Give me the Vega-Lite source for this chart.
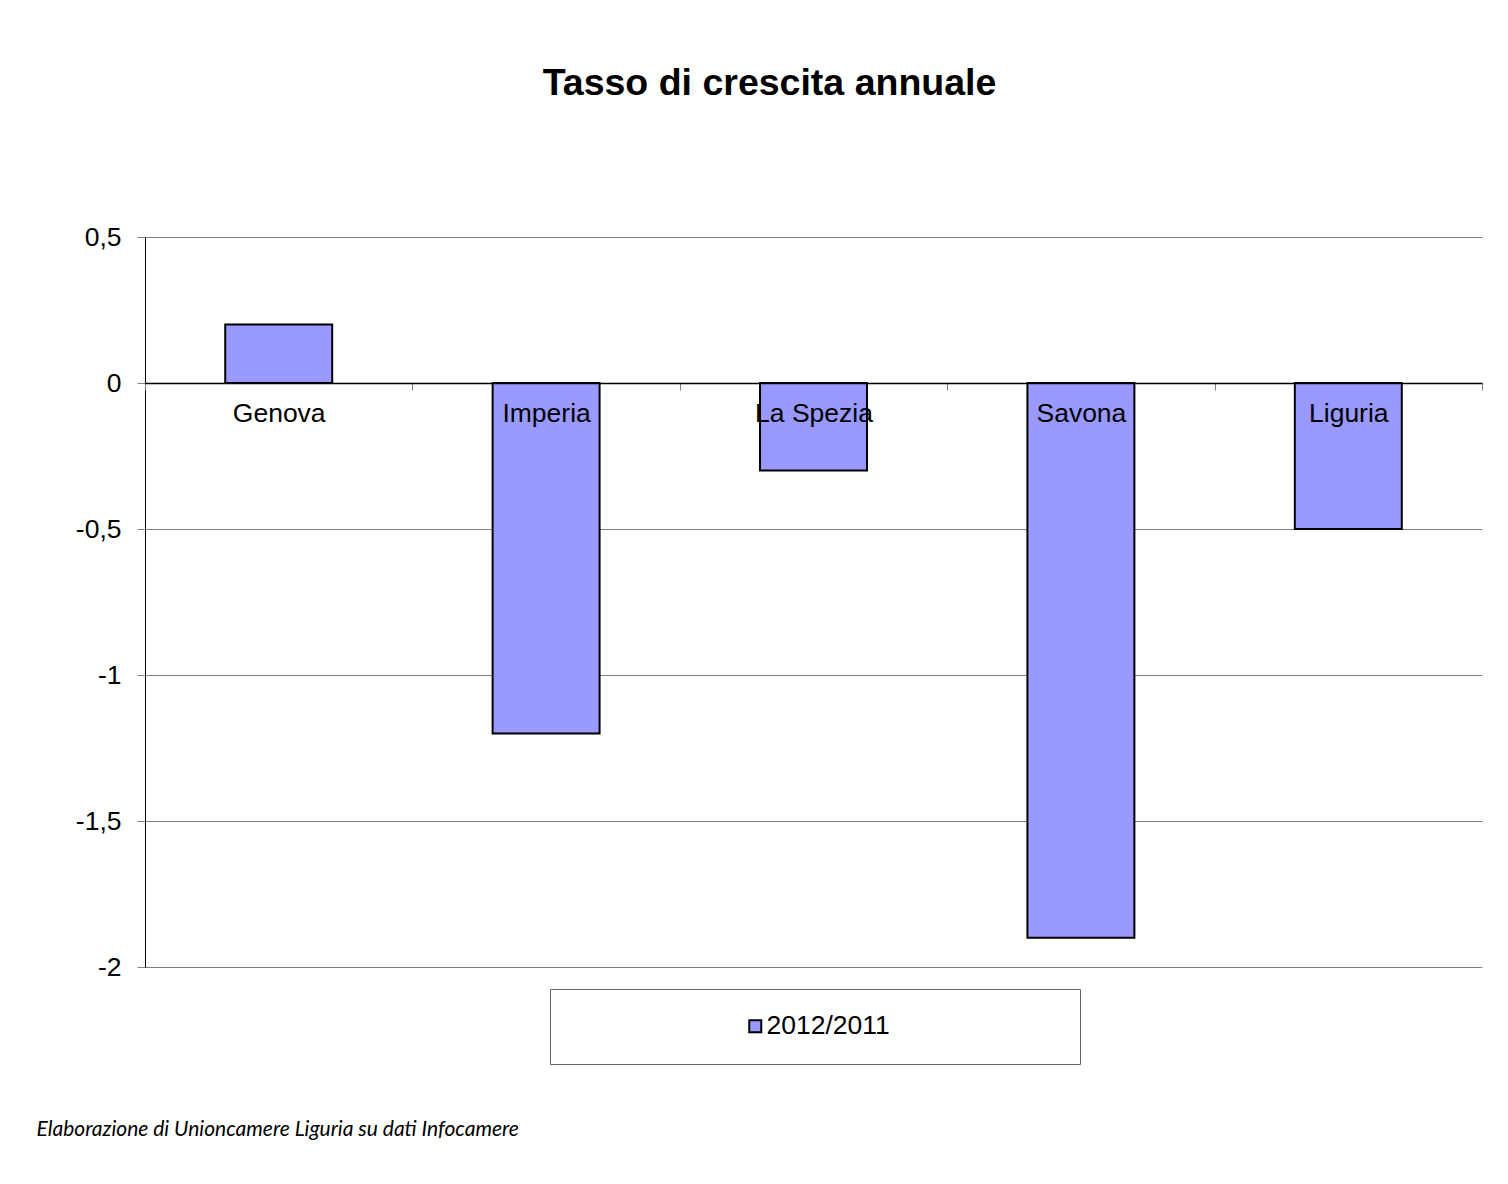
{
  "$schema": "https://vega.github.io/schema/vega-lite/v6.json",
  "width": 1337,
  "height": 730,
  "autosize": {"type": "none"},
  "padding": {"left": 145, "top": 237, "right": 26, "bottom": 217},
  "background": "white",
  "title": {
    "text": "Tasso di crescita annuale",
    "font": "Liberation Sans",
    "fontSize": 37.5,
    "fontWeight": "bold",
    "color": "black",
    "anchor": "middle",
    "frame": "group",
    "dx": -44,
    "offset": 122
  },
  "data": {
    "values": [
      {"provincia": "Genova", "tasso": 0.2, "serie": "2012/2011"},
      {"provincia": "Imperia", "tasso": -1.2, "serie": "2012/2011"},
      {"provincia": "La Spezia", "tasso": -0.3, "serie": "2012/2011"},
      {"provincia": "Savona", "tasso": -1.9, "serie": "2012/2011"},
      {"provincia": "Liguria", "tasso": -0.5, "serie": "2012/2011"}
    ]
  },
  "mark": {"type": "bar", "stroke": "black", "strokeWidth": 2, "width": {"band": 0.4}},
  "encoding": {
    "x": {
      "field": "provincia",
      "type": "nominal",
      "sort": null,
      "scale": {"paddingInner": 0, "paddingOuter": 0},
      "axis": {
        "orient": "bottom",
        "offset": -584,
        "title": "Elaborazione di Unioncamere Liguria su dati Infocamere",
        "titleFont": "Lato",
        "titleFontStyle": "italic",
        "titleFontWeight": "normal",
        "titleFontSize": 21,
        "titleColor": "black",
        "titleX": -109,
        "titleY": 752,
        "titleAlign": "left",
        "titleBaseline": "alphabetic",
        "titleAnchor": "start",
        "domainColor": "black",
        "domainWidth": 1.5,
        "tickColor": "#808080",
        "tickSize": 7,
        "tickWidth": 1,
        "tickBand": "extent",
        "labelAngle": 0,
        "labelFont": "Liberation Sans",
        "labelFontSize": 26.5,
        "labelColor": "black",
        "labelPadding": 10,
        "grid": false,
        "zindex": 1
      }
    },
    "y": {
      "field": "tasso",
      "type": "quantitative",
      "scale": {"domain": [-2, 0.5], "nice": false, "zero": true},
      "axis": {
        "values": [0.5, 0, -0.5, -1, -1.5, -2],
        "title": null,
        "domainColor": "black",
        "domainWidth": 1,
        "tickColor": "#808080",
        "tickSize": 8,
        "tickWidth": 1,
        "labelFont": "Liberation Sans",
        "labelFontSize": 26.5,
        "labelColor": "black",
        "labelPadding": 16,
        "labelExpr": "replace(toString(datum.value), '.', ',')",
        "grid": true,
        "gridColor": "#808080",
        "gridWidth": 1
      }
    },
    "fill": {
      "field": "serie",
      "type": "nominal",
      "scale": {"range": ["#9999FF"]},
      "legend": {
        "orient": "none",
        "legendX": 405,
        "legendY": 752,
        "title": null,
        "padding": 24,
        "strokeColor": "#666666",
        "fillColor": "white",
        "labelFont": "Liberation Sans",
        "labelFontSize": 26.5,
        "labelColor": "black",
        "symbolType": "M-1,-1H1V1H-1Z M49.3,0",
        "symbolSize": 144,
        "symbolStrokeColor": "black",
        "symbolStrokeWidth": 2,
        "symbolOffset": 168,
        "labelOffset": -2
      }
    }
  },
  "config": {"view": {"stroke": null}}
}
